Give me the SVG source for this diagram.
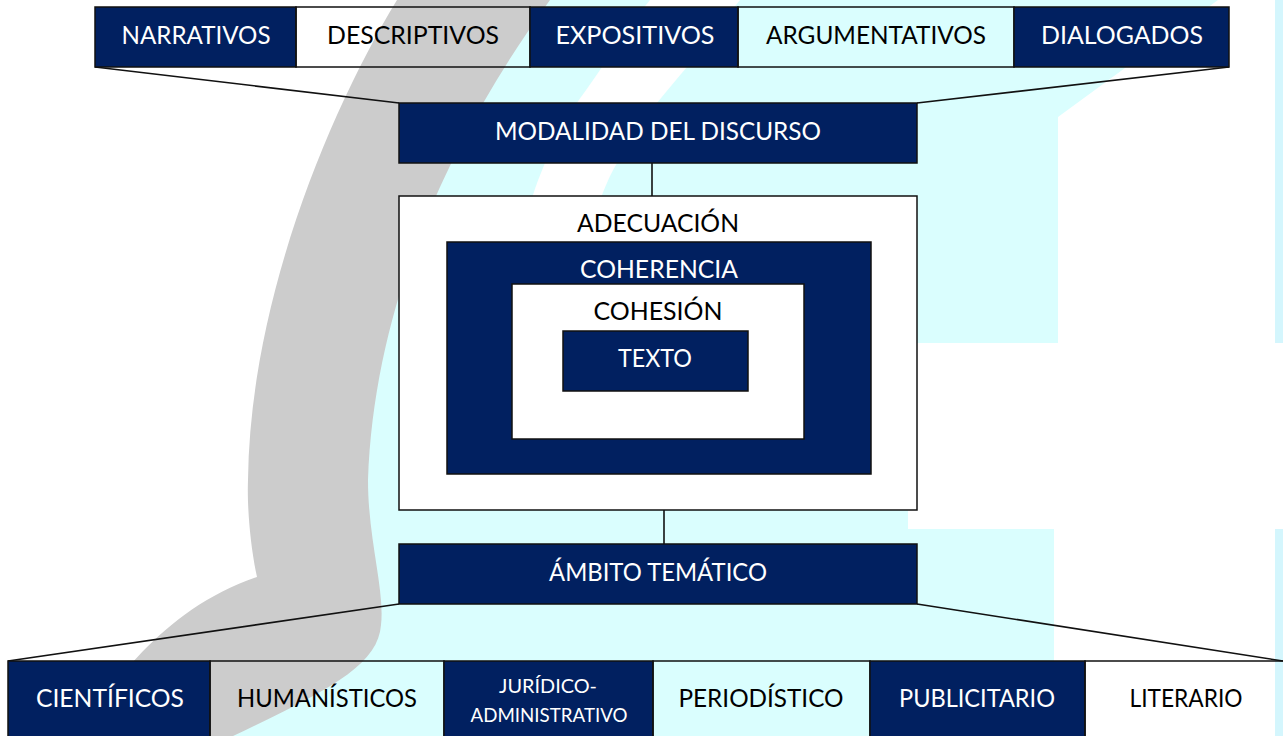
<svg xmlns="http://www.w3.org/2000/svg" width="1283" height="736" viewBox="0 0 1283 736">
<style>
.navy{fill:#012060;stroke:#111;stroke-width:1.5}
.clear{fill:none;stroke:#111;stroke-width:1.5}
.white{fill:#ffffff;stroke:#111;stroke-width:1.5}
.link{stroke:#111;stroke-width:1.6;fill:none}
text{font-family:"Lato","Liberation Sans",sans-serif;font-size:25px;text-anchor:middle}
.tw{fill:#ffffff}
.tb{fill:#000000}
.small{font-size:19px}
</style>
<g id="background">
<rect x="0" y="0" width="1283" height="736" fill="#ffffff"/>
<path fill="#dafefe" d="M470,0 L1218,0 L1058,117 L1058,343 L908,343 L908,529 L1054,529 L1054,740 L200,740 L310,560 L310,400 L350,200 Z"/>
<path fill="#ffffff" d="M650,0 C630,25 612,50 602,67 C590,85 580,98 577,103 C565,125 552,145 545,163 C540,175 536,185 533,195 L515,280 L585,280 L602,195 C606,185 610,175 617,163 C628,145 642,122 657,103 C666,92 676,80 687,67 C705,45 722,22 740,0 Z"/>
<rect x="1275" y="0" width="8" height="343" fill="#d4f6fd"/>
<rect x="1275" y="529" width="8" height="211" fill="#d4f6fd"/>
<path fill="#cccccc" d="M397,0 L550,0 C470,110 375,280 368,480 C368,540 385,590 381,625 C378,665 330,690 233,736 L75,736 C110,690 160,610 257,577 C250,545 247,505 248,480 C250,300 330,110 397,0 Z"/>
</g>
<g id="connectors">
<line class="link" x1="95" y1="67" x2="399" y2="103"/>
<line class="link" x1="1229" y1="67" x2="917" y2="103"/>
<line class="link" x1="652" y1="163" x2="652" y2="196"/>
<line class="link" x1="664" y1="510" x2="664" y2="544"/>
<line class="link" x1="399" y1="604" x2="8" y2="661"/>
<line class="link" x1="917" y1="604" x2="1283" y2="661"/>
</g>
<g id="narrativos"><rect class="navy" x="95" y="7" width="201" height="60"/><text class="tw" x="196" y="44" textLength="149" lengthAdjust="spacingAndGlyphs">NARRATIVOS</text></g>
<g id="descriptivos"><rect class="clear" x="296" y="7" width="234" height="60"/><text class="tb" x="413" y="44" textLength="172" lengthAdjust="spacingAndGlyphs">DESCRIPTIVOS</text></g>
<g id="expositivos"><rect class="navy" x="530" y="7" width="208" height="60"/><text class="tw" x="635" y="44" textLength="159" lengthAdjust="spacingAndGlyphs">EXPOSITIVOS</text></g>
<g id="argumentativos"><rect class="clear" x="738" y="7" width="276" height="60"/><text class="tb" x="876" y="44" textLength="220" lengthAdjust="spacingAndGlyphs">ARGUMENTATIVOS</text></g>
<g id="dialogados"><rect class="navy" x="1014" y="7" width="215" height="60"/><text class="tw" x="1122" y="44" textLength="162" lengthAdjust="spacingAndGlyphs">DIALOGADOS</text></g>
<g id="modalidad"><rect class="navy" x="399" y="103" width="518" height="60"/><text class="tw" x="658" y="140" textLength="326" lengthAdjust="spacingAndGlyphs">MODALIDAD DEL DISCURSO</text></g>
<g id="adecuacion"><rect class="white" x="399" y="196" width="518" height="314"/><text class="tb" x="658" y="232" textLength="162" lengthAdjust="spacingAndGlyphs">ADECUACIÓN</text></g>
<g id="coherencia"><rect class="navy" x="447" y="242" width="424" height="232"/><text class="tw" x="659" y="278" textLength="158" lengthAdjust="spacingAndGlyphs">COHERENCIA</text></g>
<g id="cohesion"><rect class="white" x="512" y="284" width="292" height="155"/><text class="tb" x="658" y="320" textLength="129" lengthAdjust="spacingAndGlyphs">COHESIÓN</text></g>
<g id="texto"><rect class="navy" x="563" y="331" width="185" height="60"/><text class="tw" x="655" y="367" textLength="74" lengthAdjust="spacingAndGlyphs">TEXTO</text></g>
<g id="ambito"><rect class="navy" x="399" y="544" width="518" height="60"/><text class="tw" x="658" y="581" textLength="218" lengthAdjust="spacingAndGlyphs">ÁMBITO TEMÁTICO</text></g>
<g id="cientificos"><rect class="navy" x="8" y="661" width="202" height="80"/><text class="tw" x="110" y="707" textLength="148" lengthAdjust="spacingAndGlyphs">CIENTÍFICOS</text></g>
<g id="humanisticos"><rect class="clear" x="210" y="661" width="234" height="80"/><text class="tb" x="327" y="707" textLength="180" lengthAdjust="spacingAndGlyphs">HUMANÍSTICOS</text></g>
<g id="juridico"><rect class="navy" x="444" y="661" width="209" height="80"/><text class="tw small" x="548" y="693" textLength="98" lengthAdjust="spacingAndGlyphs">JURÍDICO-</text><text class="tw small" x="549" y="722" textLength="157" lengthAdjust="spacingAndGlyphs">ADMINISTRATIVO</text></g>
<g id="periodistico"><rect class="clear" x="653" y="661" width="217" height="80"/><text class="tb" x="761" y="707" textLength="165" lengthAdjust="spacingAndGlyphs">PERIODÍSTICO</text></g>
<g id="publicitario"><rect class="navy" x="870" y="661" width="215" height="80"/><text class="tw" x="977" y="707" textLength="156" lengthAdjust="spacingAndGlyphs">PUBLICITARIO</text></g>
<g id="literario"><rect class="clear" x="1085" y="661" width="200" height="80"/><text class="tb" x="1186" y="707" textLength="113" lengthAdjust="spacingAndGlyphs">LITERARIO</text></g>
</svg>
